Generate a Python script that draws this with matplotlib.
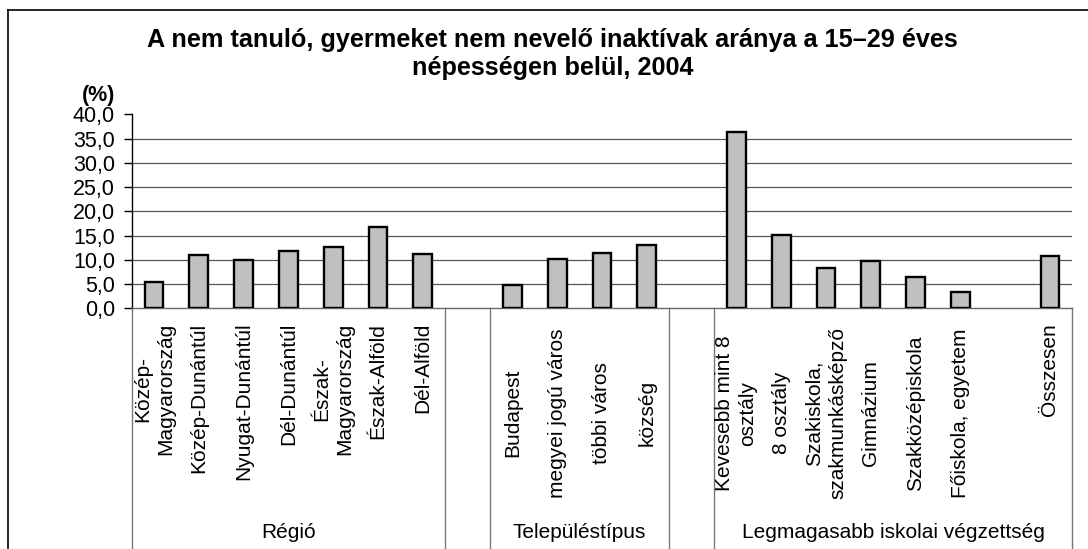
import numpy as np
import matplotlib.pyplot as plt
from matplotlib.lines import Line2D
from matplotlib.ticker import FuncFormatter

# ---------------------------------------------------------
# data (%)
# ---------------------------------------------------------
regio_labels = ["Közép-\nMagyarország", "Közép-Dunántúl", "Nyugat-Dunántúl",
                "Dél-Dunántúl", "Észak-\nMagyarország", "Észak-Alföld", "Dél-Alföld"]
regio_values = [5.5, 11.0, 9.9, 11.8, 12.7, 16.8, 11.1]

telep_labels = ["Budapest", "megyei jogú város", "többi város", "község"]
telep_values = [4.9, 10.1, 11.5, 13.0]

iskola_labels = ["Kevesebb mint 8\nosztály", "8 osztály", "Szakiskola,\nszakmunkásképző",
                 "Gimnázium", "Szakközépiskola", "Főiskola, egyetem"]
iskola_values = [36.3, 15.1, 8.4, 9.7, 6.5, 3.3]

osszes_label = "Összesen"
osszes_value = 10.8

group_names = ["Régió", "Településtípus", "Legmagasabb iskolai végzettség"]

title = "A nem tanuló, gyermeket nem nevelő inaktívak aránya a 15–29 éves\nnépességen belül, 2004"

# ---------------------------------------------------------
# category positions (one empty slot between blocks)
# ---------------------------------------------------------
blocks = [(regio_labels, regio_values), (telep_labels, telep_values),
          (iskola_labels, iskola_values), ([osszes_label], [osszes_value])]

labels, values, pos, block_id = [], [], [], []
k = 0
for b, (labs, vals) in enumerate(blocks):
    if b > 0:
        k += 1  # empty slot
    for lab, v in zip(labs, vals):
        labels.append(lab)
        values.append(v)
        pos.append(k)
        block_id.append(b)
        k += 1
n_slots = k

plt.rcParams.update({
    "font.family": ["Liberation Sans", "DejaVu Sans"],
    "font.size": 15,
})

fig = plt.figure(figsize=(10.88, 5.49), dpi=100)
ax = fig.add_axes([0.1210, 0.4384, 0.8646, 0.3534])

ax.set_xlim(-0.5, n_slots - 0.5)
ax.set_ylim(0, 40)

yticks = np.arange(0, 41, 5)
for t in yticks[1:-1]:
    ax.axhline(t, color="#555555", linewidth=0.9, zorder=1)

ax.bar(pos, values, width=0.42, color="#C0C0C0", edgecolor="black",
       linewidth=1.7, zorder=3)

ax.set_yticks(yticks)
ax.yaxis.set_major_formatter(FuncFormatter(lambda v, p: f"{v:.1f}".replace(".", ",")))
ax.tick_params(axis="y", length=5.5, width=1.0, pad=6.5, labelsize=15.5, direction="out")
ax.set_xticks([])

ax.spines["top"].set_visible(False)
ax.spines["right"].set_visible(False)
ax.spines["left"].set_color("black")
ax.spines["left"].set_linewidth(1.0)
ax.spines["bottom"].set_color("#666666")
ax.spines["bottom"].set_linewidth(1.0)

# category labels
trans = ax.get_xaxis_transform()
for p, lab, b in zip(pos, labels, block_id):
    if b == 0 or b == 3:
        ax.text(p, -0.075, lab, rotation=90, ha="center", va="top",
                multialignment="center", linespacing=1.3, transform=trans, fontsize=15)
    else:
        ax.text(p, -0.54, lab, rotation=90, ha="center", va="center",
                multialignment="center", linespacing=1.3, transform=trans, fontsize=15)

# group separators and group labels
bottom = -1.3
starts = [pos[block_id.index(0)], pos[block_id.index(1)], pos[block_id.index(2)]]
ends = [pos[len(block_id) - 1 - block_id[::-1].index(0)],
        pos[len(block_id) - 1 - block_id[::-1].index(1)],
        pos[-1]]
for s, e, name in zip(starts, ends, group_names):
    for xline in (s - 0.5, e + 0.5):
        ax.plot([xline, xline], [0, bottom], color="#777777", linewidth=1.0,
                transform=trans, clip_on=False, zorder=2)
    ax.text((s + e) / 2, -1.153, name, ha="center", va="center",
            transform=trans, fontsize=15)

# y unit and title
fig.text(115 / 1088, 1 - 96 / 549, "(%)", ha="right", va="center",
         fontsize=15.5, fontweight="bold")
fig.text(0.508, 1 - 54 / 549, title, ha="center", va="center",
         fontsize=18.2, fontweight="bold", linespacing=1.22)

# outer frame (top and left edges visible in the crop)
fig.add_artist(Line2D([8 / 1088, 1.01], [1 - 10 / 549] * 2, transform=fig.transFigure,
                      color="black", linewidth=1.2))
fig.add_artist(Line2D([8 / 1088] * 2, [-0.01, 1 - 10 / 549], transform=fig.transFigure,
                      color="black", linewidth=1.2))

fig.savefig("out.png", dpi=100)
